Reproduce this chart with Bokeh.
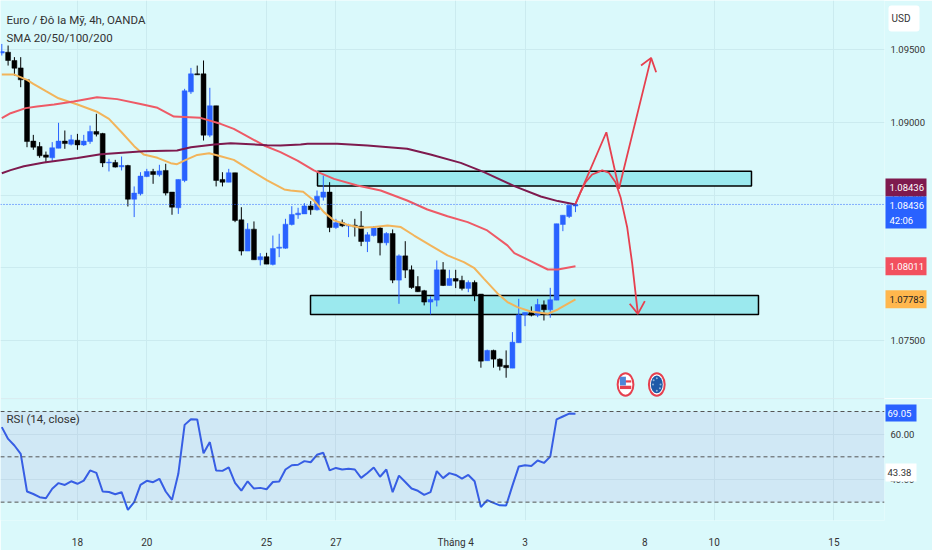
from bokeh.plotting import figure
from bokeh.layouts import column, row
from bokeh.core.properties import value
from bokeh.models import (ColumnDataSource, FixedTicker, Label, NumeralTickFormatter,
                          Range1d, Span, BoxAnnotation)
from bokeh.embed import file_html
from bokeh.resources import INLINE

open_ = [1.09478,1.09484,1.09427,1.09376,1.09294,1.08872,1.08835,1.08777,1.08757,1.08823,1.08872,1.08851,1.08878,1.08846,1.08869,1.08938,
1.08924,1.08722,1.08725,1.08695,1.08704,1.08472,1.08509,1.08628,1.08663,1.08640,1.08670,1.08521,1.08413,1.08601,1.09211,1.09335,
1.09335,1.08913,1.09115,1.08608,1.08589,1.08654,1.08330,1.08115,1.08266,1.08055,1.08076,1.08023,1.08135,1.08135,1.08298,1.08365,
1.08371,1.08426,1.08399,1.08486,1.08521,1.08277,1.08310,1.08287,1.08293,1.08287,1.08181,1.08222,1.08273,1.08172,1.08236,1.07915,
1.08082,1.07986,1.07871,1.07842,1.07764,1.07777,1.07986,1.07878,1.07926,1.07913,1.07858,1.07899,1.07819,1.07360,1.07431,1.07371,
1.07328,1.07309,1.07484,1.07676,1.07692,1.07674,1.07745,1.07711,1.07777,1.08298,1.08353,1.08425]
high = [1.09541,1.09530,1.09450,1.09450,1.09294,1.08915,1.08865,1.08800,1.08865,1.08998,1.08945,1.08915,1.08922,1.08915,1.08979,1.09060,
1.08929,1.08750,1.08743,1.08766,1.08709,1.08560,1.08658,1.08681,1.08681,1.08709,1.08716,1.08521,1.08608,1.09232,1.09376,1.09392,
1.09427,1.09239,1.09115,1.08658,1.08681,1.08654,1.08417,1.08307,1.08319,1.08101,1.08103,1.08222,1.08234,1.08337,1.08424,1.08413,
1.08445,1.08459,1.08532,1.08635,1.08589,1.08337,1.08332,1.08303,1.08337,1.08390,1.08245,1.08287,1.08280,1.08245,1.08264,1.08092,
1.08183,1.08016,1.07942,1.07848,1.07805,1.08050,1.08039,1.07986,1.07986,1.07945,1.07913,1.07913,1.07819,1.07436,1.07436,1.07376,
1.07431,1.07557,1.07786,1.07692,1.07734,1.07786,1.07775,1.07862,1.08303,1.08362,1.08431,1.08445]
low = [1.09461,1.09392,1.09323,1.09243,1.08830,1.08812,1.08757,1.08727,1.08734,1.08823,1.08819,1.08842,1.08812,1.08839,1.08853,1.08904,
1.08693,1.08663,1.08690,1.08670,1.08422,1.08349,1.08498,1.08624,1.08578,1.08628,1.08498,1.08365,1.08371,1.08589,1.09197,1.09328,
1.08876,1.08899,1.08560,1.08560,1.08589,1.08314,1.08085,1.08115,1.08055,1.08016,1.08025,1.08016,1.08073,1.08131,1.08291,1.08337,
1.08371,1.08365,1.08394,1.08463,1.08245,1.08268,1.08280,1.08211,1.08215,1.08149,1.08108,1.08215,1.08085,1.08154,1.07894,1.07752,
1.07929,1.07855,1.07833,1.07741,1.07679,1.07734,1.07874,1.07878,1.07860,1.07844,1.07832,1.07770,1.07312,1.07360,1.07312,1.07293,
1.07243,1.07309,1.07484,1.07598,1.07665,1.07660,1.07637,1.07656,1.07777,1.08252,1.08342,1.08383]
close = [1.09489,1.09427,1.09374,1.09294,1.08869,1.08830,1.08771,1.08761,1.08826,1.08872,1.08855,1.08881,1.08846,1.08872,1.08938,1.08920,
1.08722,1.08727,1.08693,1.08704,1.08472,1.08514,1.08631,1.08663,1.08642,1.08667,1.08514,1.08417,1.08608,1.09218,1.09335,1.09328,
1.08913,1.09115,1.08601,1.08589,1.08654,1.08326,1.08115,1.08266,1.08055,1.08076,1.08025,1.08133,1.08142,1.08300,1.08367,1.08376,
1.08426,1.08399,1.08493,1.08521,1.08277,1.08310,1.08289,1.08293,1.08282,1.08181,1.08227,1.08273,1.08172,1.08236,1.07915,1.08082,
1.07984,1.07864,1.07835,1.07764,1.07782,1.07986,1.07878,1.07926,1.07908,1.07858,1.07899,1.07812,1.07357,1.07431,1.07371,1.07321,
1.07312,1.07488,1.07676,1.07692,1.07674,1.07747,1.07711,1.07780,1.08303,1.08362,1.08431,1.08436]

rsi = [63.1,57.9,55.0,51.3,34.7,33.6,32.2,31.7,35.9,38.4,37.6,39.2,38.1,39.5,44.0,42.9,34.7,34.5,33.5,34.4,26.6,30.0,37.6,39.4,38.8,40.3,
34.7,31.0,42.5,64.1,66.6,66.5,51.6,56.5,44.0,43.8,45.3,38.5,35.1,39.2,36.0,36.3,35.7,38.9,39.1,44.4,46.3,46.5,48.1,47.6,50.9,51.8,
44.0,45.1,44.4,44.7,44.4,40.7,42.9,45.3,41.2,44.4,34.4,41.7,38.9,36.0,35.0,33.2,34.4,43.7,40.6,42.8,42.0,40.4,42.0,39.2,27.8,30.9,
29.7,28.6,28.5,37.3,45.7,46.3,46.0,48.4,47.3,50.1,66.5,67.8,69.1,69.05]

sma20_x = [0,2,4,5,7,9,12,15,17,19,21,22.5,24.7,26.8,27.8,29.2,31,32.9,34.7,36.8,39.5,42.1,44.8,45.8,47.8,49.5,51.1,52.7,54.8,56.9,59.1,61.2,63.3,65.4,68,70.7,73.3,74.9,76.5,78.6,80.2,81.8,83.9,86.6,88.2,91]
sma20_y = [1.09330,1.09330,1.09294,1.09266,1.09216,1.09167,1.09124,1.09076,1.09025,1.08933,1.08837,1.08780,1.08757,1.08720,1.08713,1.08743,1.08777,1.08789,1.08768,1.08743,1.08670,1.08601,1.08539,1.08532,1.08523,1.08463,1.08383,1.08326,1.08296,1.08275,1.08280,1.08291,1.08280,1.08222,1.08154,1.08085,1.08039,1.08000,1.07924,1.07825,1.07764,1.07729,1.07699,1.07683,1.07713,1.07783]
sma50_x = [0,1.4,3.8,5.6,8.3,11.4,15.1,18.3,22,24.7,27.3,31.5,34.7,36.8,41.6,44.2,46.9,49.5,52.7,56.4,60.1,64.3,67.5,70.7,73.9,77,80.2,81.3,83.9,86.6,88.2,91]
sma50_y = [1.09030,1.09064,1.09099,1.09110,1.09124,1.09145,1.09174,1.09161,1.09128,1.09101,1.09041,1.09032,1.08991,1.08956,1.08842,1.08796,1.08738,1.08670,1.08612,1.08566,1.08532,1.08463,1.08401,1.08355,1.08314,1.08257,1.08154,1.08101,1.08046,1.07988,1.07988,1.08011]
sma200_x = [0,1.4,3.5,6.7,12,15.7,22.5,27.8,30,33.7,36.3,42.1,44.2,47.4,48.5,53.2,58,64.3,68,72.8,76.5,81.3,85.5,88.2,91]
sma200_y = [1.08651,1.08672,1.08699,1.08725,1.08755,1.08782,1.08803,1.08807,1.08830,1.08849,1.08858,1.08844,1.08842,1.08849,1.08853,1.08853,1.08842,1.08819,1.08780,1.08722,1.08658,1.08562,1.08491,1.08459,1.08436]

zone_left = [50.08, 48.97]
zone_right = [118.92, 120.03]
zone_top = [1.08665, 1.07809]
zone_bottom = [1.08563, 1.07679]

path_x = [91, 95.9, 97.9, 103.0]
path_y = [1.08440, 1.08933, 1.08544, 1.09445]
head1_x = [101.4, 103.0, 103.8]
head1_y = [1.09392, 1.09445, 1.09346]
curve_x = [91, 91.8, 92.6, 93.65, 95.25, 96.3, 97.35, 98.15, 99.2, 100, 100.9]
curve_y = [1.08440, 1.08520, 1.08589, 1.08642, 1.08670, 1.08654, 1.08589, 1.08486, 1.08279, 1.08028, 1.07683]
head2_x = [99.6, 100.9, 102]
head2_y = [1.07752, 1.07683, 1.07770]

date_ticks = [12, 23, 42, 53, 72, 83, 102, 113, 132]
date_labels = ["18", "20", "25", "27", "Tháng 4", "3", "8", "10", "15"]
grid_days = [12, 23, 42, 53, 72, 83, 113, 132]
price_ticks = [1.075, 1.08, 1.085, 1.09, 1.095]
rsi_ticks = [40, 60]
rsi_bands = [70, 50, 30]
event_x = [98.94, 103.9]
event_y = 1.07197
last_price = 1.08436

tag_text = ["1.08436", "1.08436", "42:06", "1.08011", "1.07783"]
tag_text_y = [1.08553, 1.08429, 1.08326, 1.08011, 1.07783]
tag_text_color = ["#FFFFFF", "#FFFFFF", "#FFFFFF", "#FFFFFF", "#222222"]
tag_top = [1.08615, 1.08491, 1.08073, 1.07845]
tag_bottom = [1.08491, 1.08270, 1.07949, 1.07721]
tag_fill = ["#7E1A4E", "#2962FF", "#F2505E", "#FFB74D"]
rsi_tag_text = ["69.05", "43.38"]
rsi_tag_y = [69.34, 43.2]
rsi_tag_top = [73.09, 47.04]
rsi_tag_bottom = [65.58, 39.09]

BG = "#DAF9FB"; BLUE = "#2962FF"; BLACK = "#000000"; GRID = "#CBEBEF"; TXT = "#333333"; RED = "#E6404F"
FONT = "Roboto"
AXIS_W = 48
NUM = "9.5px"

idx = list(range(len(open_)))
colors = [BLUE if c >= o else BLACK for o, c in zip(open_, close)]
src = ColumnDataSource(dict(i=idx, o=open_, h=high, l=low, c=close, col=colors))

def style(fig):
    fig.background_fill_color = BG
    fig.border_fill_color = BG
    fig.outline_line_color = None
    fig.yaxis.axis_line_color = None
    fig.yaxis.major_tick_line_color = None
    fig.yaxis.minor_tick_line_color = None
    fig.yaxis.major_tick_out = 0
    fig.yaxis.major_tick_in = 0
    fig.yaxis.major_label_text_color = TXT
    fig.yaxis.major_label_text_font = FONT
    fig.yaxis.major_label_text_font_size = NUM
    fig.yaxis.major_label_text_align = "left"
    fig.yaxis.major_label_standoff = 6
    fig.xgrid.ticker = FixedTicker(ticks=grid_days)
    fig.xgrid.grid_line_color = GRID
    fig.ygrid.grid_line_color = GRID

def overlay(height, y_range):
    f = figure(width=AXIS_W, height=height, x_range=Range1d(0, AXIS_W), y_range=y_range,
               output_backend="svg", toolbar_location=None, min_border=0, margin=(0, 0, 0, -AXIS_W))
    f.axis.visible = False
    f.grid.visible = False
    f.background_fill_color = None
    f.border_fill_color = None
    f.outline_line_color = None
    return f

p = figure(width=932, height=398, x_range=Range1d(-0.206, 140.02), y_range=Range1d(1.07100, 1.09840),
           y_axis_location="right", output_backend="svg", toolbar_location=None,
           min_border_left=0, min_border_right=AXIS_W, min_border_top=0, min_border_bottom=0)
p.xaxis.visible = False
style(p)
p.yaxis.ticker = FixedTicker(ticks=price_ticks)
p.yaxis.formatter = NumeralTickFormatter(format="0.00000")
p.ygrid.ticker = FixedTicker(ticks=price_ticks)

p.quad(left=zone_left, right=zone_right, top=zone_top, bottom=zone_bottom,
       fill_color="#9BE9EE", line_color="#000000", line_width=1.5)
p.segment("i", "h", "i", "l", source=src, color="col", line_width=1)
p.vbar("i", 0.78, "o", "c", source=src, fill_color="col", line_color="col", line_width=0.5)
p.line(sma20_x, sma20_y, line_color="#F2B45B", line_width=2)
p.line(sma50_x, sma50_y, line_color="#EE5A66", line_width=2)
p.line(sma200_x, sma200_y, line_color="#7E1A4E", line_width=2)
p.add_layout(Span(location=last_price, dimension="width", line_color=BLUE, line_width=1, line_dash="1 2"))

for xs, ys in ((path_x, path_y), (head1_x, head1_y), (curve_x, curve_y), (head2_x, head2_y)):
    p.line(xs, ys, line_color=RED, line_width=1.8)

# the two event markers: squeezed flag medallions
p.ellipse(event_x, [event_y] * 2, width=2.5, height=0.00155, fill_color="#FFFFFF", line_color=RED, line_width=2)
p.quad(left=[98.05, 98.05], right=[99.85, 99.85], top=[1.07225, 1.07188], bottom=[1.07210, 1.07165],
       fill_color=RED, line_color=None)
p.quad(left=[98.05], right=[99.0], top=[1.07250], bottom=[1.07190], fill_color="#4F86D8", line_color=None)
p.ellipse([event_x[1]], [event_y], width=1.9, height=0.00122, fill_color="#1F5AA8", line_color=None)
p.scatter([103.3, 104.5, 103.9, 103.9, 103.4, 104.4], [1.07197, 1.07197, 1.07240, 1.07154, 1.07225, 1.07170],
          size=2, fill_color="#8FB5D8", line_color=None)

def note(fig, x, y, text, size="11.5px", color=TXT):
    fig.add_layout(Label(x=x, y=y, text=text, text_color=color, text_font=FONT, text_font_size=size,
                         text_baseline="middle"))

note(p, 0.75, 1.09709, "Euro / Đô la Mỹ, 4h, OANDA")
note(p, 0.75, 1.09585, "SMA 20/50/100/200")

q = overlay(398, p.y_range)
q.quad(left=[4], right=[35], top=[1.09805], bottom=[1.09626], fill_color="#FFFFFF", line_color=None, border_radius=3)
q.text(x=[7], y=[1.09716], text=["USD"], text_font=value(FONT), text_font_size="10px", text_color=TXT,
       text_baseline="middle")
q.quad(left=[1] * 4, right=[42] * 4, top=tag_top, bottom=tag_bottom, fill_color=tag_fill, line_color=None)
q.text(x=[5] * 5, y=tag_text_y, text=tag_text, text_color=tag_text_color, text_font=value(FONT),
       text_font_size=NUM, text_baseline="middle")

r = figure(width=932, height=152, x_range=p.x_range, y_range=Range1d(21.9, 75.74),
           y_axis_location="right", output_backend="svg", toolbar_location=None,
           min_border_left=0, min_border_right=AXIS_W, min_border_top=0, min_border_bottom=30)
style(r)
r.yaxis.ticker = FixedTicker(ticks=rsi_ticks)
r.yaxis.formatter = NumeralTickFormatter(format="0.00")
r.ygrid.ticker = FixedTicker(ticks=rsi_ticks)
r.xaxis.ticker = FixedTicker(ticks=date_ticks)
r.xaxis.major_label_overrides = dict(zip(date_ticks, date_labels))
r.xaxis.axis_line_color = None
r.xaxis.major_tick_line_color = None
r.xaxis.minor_tick_line_color = None
r.xaxis.major_label_text_color = TXT
r.xaxis.major_label_text_font = FONT
r.xaxis.major_label_text_font_size = "10px"
r.xaxis.major_label_standoff = 10
r.add_layout(BoxAnnotation(bottom=min(rsi_bands), top=max(rsi_bands), fill_color="#7E57C2", fill_alpha=0.1, line_color=None))
for b in rsi_bands:
    r.add_layout(Span(location=b, dimension="width", line_color="#555555", line_width=1, line_dash="4 3"))
r.add_layout(Span(location=75.7, dimension="width", line_color="#C3DDE2", line_width=1))
r.line(idx, rsi, line_color="#2F5FE8", line_width=2)
note(r, 0.75, 66.9, "RSI (14, close)")

s = overlay(152, r.y_range)
s.min_border_bottom = 30
s.quad(left=[1, 1], right=[32, 32], top=rsi_tag_top, bottom=rsi_tag_bottom, fill_color=[BLUE, "#FFFFFF"], line_color=None)
s.text(x=[3, 3], y=rsi_tag_y, text=rsi_tag_text, text_color=["#FFFFFF", TXT], text_font=value(FONT),
       text_font_size=NUM, text_baseline="middle")

page = column(row(p, q), row(r, s), spacing=0)
open("out.html", "w").write(file_html(page, INLINE))
